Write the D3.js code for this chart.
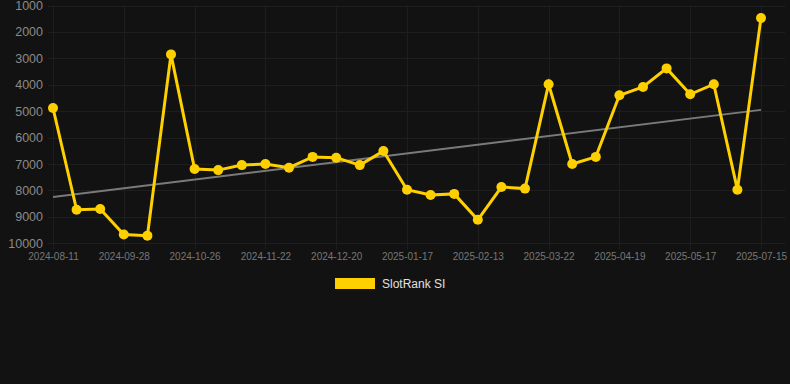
<!DOCTYPE html>
<html>
<head>
<meta charset="utf-8">
<script src="https://cdn.jsdelivr.net/npm/d3@7"></script>
<style>
  html, body { margin: 0; padding: 0; background: #121212; }
  #wrapper { width: 790px; height: 384px; }
</style>
</head>
<body>
<div id="wrapper"></div>
<script>
const dates = [
    "2024-08-11", "2024-08-25", "2024-09-14", "2024-09-28", "2024-10-05", "2024-10-12",
    "2024-10-26", "2024-11-02", "2024-11-09", "2024-11-22", "2024-11-30", "2024-12-07",
    "2024-12-20", "2024-12-28", "2025-01-04", "2025-01-17", "2025-01-25", "2025-02-01",
    "2025-02-13", "2025-02-22", "2025-03-08", "2025-03-22", "2025-03-29", "2025-04-05",
    "2025-04-19", "2025-04-26", "2025-05-03", "2025-05-17", "2025-05-31", "2025-06-21",
    "2025-07-15"
];
const ranks = [
    4880, 8730, 8700, 9670, 9710, 2850,
    7190, 7230, 7040, 7000, 7140, 6730,
    6760, 7040, 6510, 7970, 8170, 8130,
    9110, 7870, 7930, 3980, 7000, 6730,
    4400, 4085, 3380, 4360, 3980, 7970,
    1470
];
// trend line values at first and last date
const trend = [8250, 4950];
const yTicks = [1000, 2000, 3000, 4000, 5000, 6000, 7000, 8000, 9000, 10000];
const seriesName = "SlotRank SI";

const dimension = {
    width: 790,
    height: 384,
    left: 53,
    right: 761,
    top: 5.5,
    bottom: 243.3
};

const svg = d3.select("#wrapper").append("svg")
    .attr("width", dimension.width)
    .attr("height", dimension.height)
    .style("font-family", "Liberation Sans, Arial, sans-serif");

svg.append("rect")
    .attr("width", dimension.width)
    .attr("height", dimension.height)
    .attr("fill", "#121212");

const xScaler = d3.scalePoint()
    .domain(dates)
    .range([dimension.left, dimension.right]);

const yScaler = d3.scaleLinear()
    .domain([1000, 10000])
    .range([dimension.top, dimension.bottom]);

const tickDates = dates.filter((d, i) => i % 3 === 0);

// grid
const grid = svg.append("g");
grid.selectAll(".hgrid")
    .data(yTicks)
    .join("line")
    .attr("x1", 48)
    .attr("x2", 785)
    .attr("y1", d => Math.round(yScaler(d)) + 0.5)
    .attr("y2", d => Math.round(yScaler(d)) + 0.5)
    .attr("stroke", "#1e1e1e")
    .attr("stroke-width", 1);

grid.selectAll(".vgrid")
    .data(tickDates)
    .join("line")
    .attr("x1", d => Math.round(xScaler(d)) + 0.5)
    .attr("x2", d => Math.round(xScaler(d)) + 0.5)
    .attr("y1", dimension.top)
    .attr("y2", dimension.bottom + 6)
    .attr("stroke", "#1e1e1e")
    .attr("stroke-width", 1);

// y axis labels
const yAxis = d3.axisLeft(yScaler)
    .tickValues(yTicks)
    .tickFormat(d3.format("d"))
    .tickSize(0)
    .tickPadding(0);

svg.append("g")
    .attr("transform", "translate(43,0)")
    .call(yAxis)
    .call(g => g.select(".domain").remove())
    .call(g => g.selectAll("text")
        .attr("fill", "#8a8a8a")
        .style("font-size", "12.5px")
        .style("font-family", "Liberation Sans, Arial, sans-serif"));

// x axis labels
const xAxis = d3.axisBottom(xScaler)
    .tickValues(tickDates)
    .tickSize(0)
    .tickPadding(0);

svg.append("g")
    .attr("transform", "translate(0,253)")
    .call(xAxis)
    .call(g => g.select(".domain").remove())
    .call(g => g.selectAll("text")
        .attr("fill", "#777")
        .style("font-size", "10px")
        .style("font-family", "Liberation Sans, Arial, sans-serif"));

// trend line
svg.append("line")
    .attr("x1", xScaler(dates[0]))
    .attr("y1", yScaler(trend[0]))
    .attr("x2", xScaler(dates[dates.length - 1]))
    .attr("y2", yScaler(trend[1]))
    .attr("stroke", "#7a7a7a")
    .attr("stroke-width", 2);

// main line
const lineGenerator = d3.line()
    .x((d, i) => xScaler(dates[i]))
    .y(d => yScaler(d));

svg.append("path")
    .attr("d", lineGenerator(ranks))
    .attr("fill", "none")
    .attr("stroke", "#FFD000")
    .attr("stroke-width", 3)
    .attr("stroke-linejoin", "miter");

svg.selectAll(".dot")
    .data(ranks)
    .join("circle")
    .attr("cx", (d, i) => xScaler(dates[i]))
    .attr("cy", d => yScaler(d))
    .attr("r", 5)
    .attr("fill", "#FFD000");

// legend
const legend = svg.append("g");
legend.append("rect")
    .attr("x", 335)
    .attr("y", 278)
    .attr("width", 40)
    .attr("height", 11)
    .attr("fill", "#FFD000");
legend.append("text")
    .attr("x", 382)
    .attr("y", 288)
    .attr("fill", "#e0e0e0")
    .style("font-size", "12px")
    .text(seriesName);
</script>
</body>
</html>
